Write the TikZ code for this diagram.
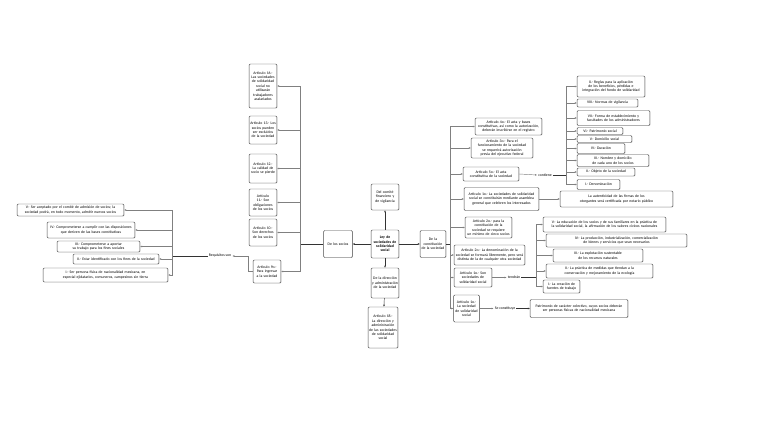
\documentclass[tikz,border=0pt]{standalone}
\usepackage{fontspec}
\setmainfont{Carlito}
\usepackage{tikz}
\usetikzlibrary{arrows.meta, shadows}
\hyphenpenalty=10000
\exhyphenpenalty=10000

\begin{document}
\begin{tikzpicture}[x=1pt, y=-1pt,
  box/.style={draw=black!70, fill=white, rounded corners=1pt, align=center, inner sep=0.8pt,
    line width=0.45pt, font=\fontsize{3.8}{4.4}\selectfont,
    drop shadow={shadow xshift=0.5pt, shadow yshift=-0.5pt, fill=black!30}},
  lbl/.style={font=\fontsize{3.8}{4.4}\selectfont, inner sep=1pt},
  conn/.style={draw=black!50, line width=0.45pt, -{Latex[length=2pt, width=1.8pt]}},
  trunk/.style={conn, draw=black!80}]
  \useasboundingbox[fill=white] (0,0) rectangle (768,427);

  \node[box, text width=26pt, minimum height=28pt, font=\fontsize{3.8}{4.4}\selectfont\bfseries] (ley) at (385,244) {Ley de sociedades de solidaridad social};
  \node[box, text width=26pt, minimum height=26pt] (comite) at (385,197) {Del comité financiero y de vigilancia};
  \node[box, text width=26pt, minimum height=30pt] (direccion) at (385,283) {De la dirección y administración de la sociedad};
  \node[box, text width=28pt, minimum height=41pt] (a18) at (383,327.5) {Artículo 18.- La dirección y administración de las sociedades de solidaridad social};
  \node[box, text width=27pt, minimum height=27pt] (socios) at (338,244) {De los socios};
  \node[box, text width=24pt, minimum height=27pt] (constit) at (433,244) {De la constitución de la sociedad};

  \node[box, text width=26pt, minimum height=44pt] (a16) at (263,86) {Artículo 16.- Las sociedades de solidaridad social no utilizarán trabajadores asalariados};
  \node[box, text width=26pt, minimum height=28pt] (a13) at (263,130) {Artículo 13.- Los socios pueden ser excluidos de la sociedad};
  \node[box, text width=26pt, minimum height=29pt] (a12) at (263,168.5) {Artículo 12.- La calidad de socio se pierde};
  \node[box, text width=26pt, minimum height=27pt] (a11) at (263,202.5) {Artículo 11.- Son obligaciones de los socios};
  \node[box, text width=26pt, minimum height=27pt] (a10) at (263,232.5) {Artículo 10.- Son derechos de los socios};
  \node[box, text width=26pt, minimum height=23pt] (a9) at (267,271.5) {Artículo 9o.- Para ingresar a la sociedad};
  \node[lbl] (req) at (220,256) {Requisitos son};

  \node[box, text width=105pt, minimum height=12pt] (v5) at (70.5,210) {V.- Ser aceptado por el comité de admisión de socios; la sociedad podrá, en todo momento, admitir nuevos socios};
  \node[box, text width=86pt, minimum height=16pt] (v4) at (91,230) {IV.- Comprometerse a cumplir con las disposiciones que deriven de las bases constitutivas};
  \node[box, text width=81pt, minimum height=11pt] (v3) at (98.5,246.5) {III.- Comprometerse a aportar su trabajo para los fines sociales};
  \node[box, text width=84pt, minimum height=10pt] (v2) at (116,259) {II.- Estar identificado con los fines de la sociedad};
  \node[box, text width=123pt, minimum height=14pt] (v1) at (105.5,275) {I.- Ser persona física de nacionalidad mexicana, en especial ejidatarios, comuneros, campesinos sin tierra};

  \node[box, text width=65pt, minimum height=17pt] (a4) at (508.5,126.5) {Artículo 4o.- El acta y bases constitutivas, así como la autorización, deberán inscribirse en el registro};
  \node[box, text width=60pt, minimum height=20pt] (a3) at (502,148) {Artículo 3o.- Para el funcionamiento de la sociedad se requerirá autorización previa del ejecutivo federal};
  \node[box, text width=54pt, minimum height=14pt] (a5) at (491,174) {Artículo 5o.- El acta constitutiva de la sociedad};
  \node[lbl] (cont) at (545,175) {contiene};
  \node[box, text width=73pt, minimum height=23pt] (a1as) at (501.5,199) {Artículo 1o.- La sociedades de solidaridad social se constituirán mediante asamblea general que celebren los interesados};
  \node[box, text width=111pt, minimum height=16pt] (autentic) at (616.5,199) {La autenticidad de las firmas de los otorgantes será certificada por notario público};
  \node[box, text width=45pt, minimum height=21pt] (a2min) at (488.5,227.5) {Artículo 2o.- para la constitución de la sociedad se requiere un mínimo de cinco socios};
  \node[box, text width=69pt, minimum height=20pt] (a2den) at (489.5,255) {Artículo 2o.- La denominación de la sociedad se formará libremente, pero será distinta de la de cualquier otra sociedad};
  \node[box, text width=36pt, minimum height=19pt] (a1son) at (473,277.5) {Artículo 1o.- Son sociedades de solidaridad social};
  \node[lbl] (tend) at (514,277.5) {tendrán};
  \node[box, text width=24pt, minimum height=27pt] (a1soc) at (466.5,308.5) {Artículo 1o.- La sociedad de solidaridad social};
  \node[lbl] (secons) at (505,308.5) {Se constituye};
  \node[box, text width=96pt, minimum height=18pt] (patri) at (579,308.5) {Patrimonio de carácter colectivo, cuyos socios deberán ser personas físicas de nacionalidad mexicana};

  \node[box, text width=66pt, minimum height=21pt] (c10) at (611,86.5) {X.- Reglas para la aplicación de los beneficios, pérdidas e integración del fondo de solidaridad};
  \node[box, text width=59pt, minimum height=8pt] (c8) at (607.5,103) {VIII.- Normas de vigilancia};
  \node[box, text width=71pt, minimum height=15pt] (c7) at (613.5,118) {VII.- Forma de establecimiento y facultades de los administradores};
  \node[box, text width=44pt, minimum height=7pt] (c6) at (600,131) {VI.- Patrimonio social};
  \node[box, text width=53pt, minimum height=7pt] (c5) at (604.5,139) {V.- Domicilio social};
  \node[box, text width=46pt, minimum height=10pt] (c4) at (601,148.5) {IV.- Duración};
  \node[box, text width=70pt, minimum height=12pt] (c3) at (613,160.5) {III.- Nombre y domicilio de cada uno de los socios};
  \node[box, text width=56pt, minimum height=8pt] (c2) at (606,172) {II.- Objeto de la sociedad};
  \node[box, text width=41pt, minimum height=10pt] (c1) at (598.5,184.5) {I.- Denominación};

  \node[box, text width=121pt, minimum height=15pt] (t5) at (604.5,224.5) {V.- La educación de los socios y de sus familiares en la práctica de la solidaridad social, la afirmación de los valores cívicos nacionales};
  \node[box, text width=139pt, minimum height=13pt] (t4) at (616.5,240.5) {IV.- La producción, industrialización, comercialización de bienes y servicios que sean necesarios};
  \node[box, text width=88pt, minimum height=13pt] (t3) at (598,255.5) {III.- La explotación sustentable de los recursos naturales};
  \node[box, text width=105pt, minimum height=14pt] (t2) at (599.5,271) {II.- La práctica de medidas que tiendan a la conservación y mejoramiento de la ecología};
  \node[box, text width=35pt, minimum height=13pt] (t1) at (561.5,286.5) {I.- La creación de fuentes de trabajo};

  \coordinate (lt) at (300,244); \coordinate (rt) at (450,244);
  \coordinate (rq) at (248,256); \coordinate (lb) at (172,256);
  \coordinate (cb) at (566,175); \coordinate (tb) at (536,277.5);

  \draw[trunk] (ley) -- (comite); \draw[trunk] (ley) -- (direccion);
  \draw[trunk] (direccion) -- (a18);
  \draw[trunk] (ley) -- (socios); \draw[trunk] (ley) -- (constit);

  \draw[trunk, -] (socios.west) -- (lt);
  \draw[conn] (lt) |- (a16.east); \draw[conn] (lt) |- (a13.east);
  \draw[conn] (lt) |- (a12.east); \draw[conn] (lt) |- (a11.east);
  \draw[conn] (lt) |- (a10.east); \draw[conn] (lt) |- (a9.east);
  \draw[conn] (a9.west) -| (rq) -- (req.east);
  \draw[trunk, -] (req.west) -- (lb);
  \draw[conn] (lb) |- (v5.east); \draw[conn] (lb) |- (v4.east);
  \draw[conn] (lb) |- (v3.east); \draw[conn] (lb) |- (v2.east);
  \draw[conn] (lb) |- (v1.east);

  \draw[trunk, -] (constit.east) -- (rt);
  \draw[conn] (rt) |- (a4.west); \draw[conn] (rt) |- (a3.west);
  \draw[conn] (rt) |- (a5.west); \draw[conn] (rt) |- (a1as.west);
  \draw[conn] (rt) |- (a2min.west); \draw[conn] (rt) |- (a2den.west);
  \draw[conn] (rt) |- (a1son.west); \draw[conn] (rt) |- (a1soc.west);

  \draw[conn] (a5.east) -- (cont.west); \draw[trunk, -] (cont.east) -- (cb);
  \draw[conn] (cb) |- (c10.west); \draw[conn] (cb) |- (c8.west);
  \draw[conn] (cb) |- (c7.west); \draw[conn] (cb) |- (c6.west);
  \draw[conn] (cb) |- (c5.west); \draw[conn] (cb) |- (c4.west);
  \draw[conn] (cb) |- (c3.west); \draw[conn] (cb) |- (c2.west);
  \draw[conn] (cb) |- (c1.west);
  \draw[conn] (a1as.east) -- (autentic.west);

  \draw[conn] (a1son.east) -- (tend.west); \draw[trunk, -] (tend.east) -- (tb);
  \draw[conn] (tb) |- (t5.west); \draw[conn] (tb) |- (t4.west);
  \draw[conn] (tb) |- (t3.west); \draw[conn] (tb) |- (t2.west);
  \draw[conn] (tb) |- (t1.west);

  \draw[conn] (a1soc.east) -- (secons.west); \draw[trunk] (secons.east) -- (patri.west);
\end{tikzpicture}
\end{document}
